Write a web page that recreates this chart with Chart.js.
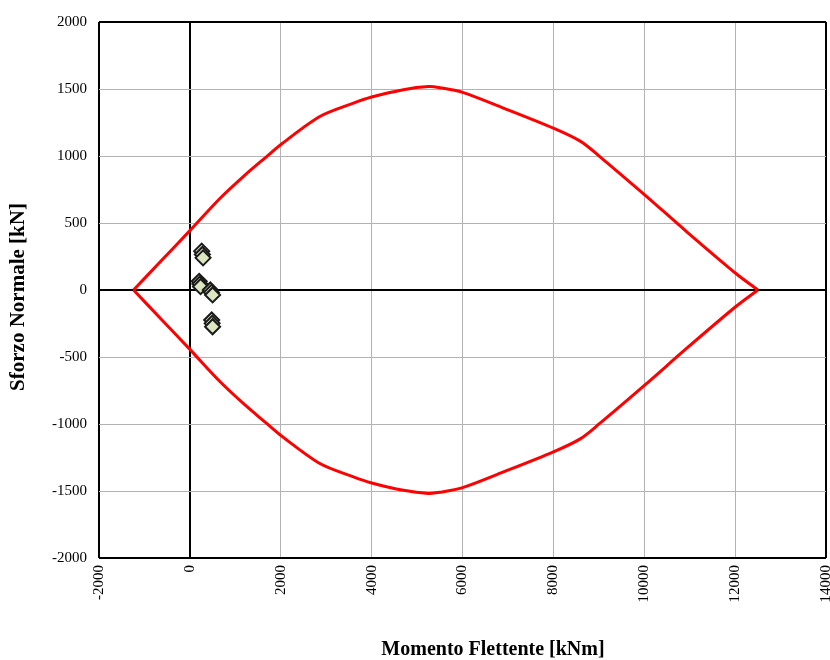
<!DOCTYPE html>
<html>
<head>
<meta charset="utf-8">
<script src="https://cdn.jsdelivr.net/npm/chart.js@4/dist/chart.umd.min.js"></script>
<style>
  html, body { margin: 0; padding: 0; background: #ffffff; }
  canvas { display: block; }
</style>
</head>
<body>
<canvas id="chart" width="830" height="660"></canvas>
<script>
// Interaction domain, upper branch (M [kNm], N [kN]) from left corner to right corner
const domainUpperM = [-1240, -620, 0, 660, 1200, 1690, 2010, 2860, 3600, 4000, 4700, 5250, 5500, 6000, 6900, 8000, 8600, 9020, 10010, 10930, 12010, 12500];
const domainUpperN = [0, 222, 443, 683, 854, 996, 1088, 1295, 1395, 1440, 1495, 1518, 1510, 1475, 1358, 1208, 1109, 996, 710, 436, 125, 0];
// Lower branch, right corner to left corner
const domainLowerM = [12500, 12010, 10930, 10010, 9020, 8600, 8000, 6900, 6000, 5500, 5250, 4700, 4000, 3600, 2860, 2010, 1690, 1200, 660, 0, -620, -1240];
const domainLowerN = [0, -125, -436, -710, -996, -1109, -1208, -1358, -1475, -1510, -1518, -1495, -1440, -1395, -1295, -1088, -996, -854, -683, -443, -222, 0];

// Design actions (M [kNm], N [kN])
const actionM = [260, 275, 290, 205, 220, 235, 450, 475, 500, 480, 490, 500];
const actionN = [290, 265, 240, 65, 45, 25, 0, -18, -37, -224, -249, -274];

// Axis ticks
const xTickMin = -2000, xTickMax = 14000, xTickStep = 2000;
const yTickMin = -2000, yTickMax = 2000, yTickStep = 500;

// Axis titles
const xTitle = 'Momento Flettente [kNm]';
const yTitle = 'Sforzo Normale [kN]';

const toPoints = (ms, ns) => ms.map((m, i) => ({ x: m, y: ns[i] }));

const serif = "'Liberation Serif', 'Times New Roman', serif";

function gridColor(min, max) {
  return ctx => {
    const v = ctx.tick ? ctx.tick.value : null;
    return (v === 0 || v === min || v === max) ? '#000000' : '#b3b3b3';
  };
}
function gridWidth(min, max) {
  return ctx => {
    const v = ctx.tick ? ctx.tick.value : null;
    return (v === 0 || v === min || v === max) ? 2 : 1;
  };
}

// Axis titles drawn at fixed spots around the plot
const axisTitles = {
  id: 'axisTitles',
  afterDraw(chart) {
    const ctx = chart.ctx;
    ctx.save();
    ctx.fillStyle = '#000000';
    ctx.textAlign = 'center';
    ctx.textBaseline = 'middle';
    ctx.font = 'bold 20px ' + serif;
    ctx.fillText(xTitle, 493, 650);
    ctx.translate(19, 297);
    ctx.rotate(-Math.PI / 2);
    ctx.font = 'bold 21px ' + serif;
    ctx.fillText(yTitle, 0, 0);
    ctx.restore();
  }
};

const lineStyle = {
  showLine: true,
  borderColor: '#ff0000',
  borderWidth: 3,
  pointRadius: 0,
  tension: 0.3,
  fill: false
};

new Chart(document.getElementById('chart'), {
  type: 'scatter',
  data: {
    datasets: [
      {
        label: 'Sollecitazioni',
        data: toPoints(actionM, actionN),
        pointStyle: 'rectRot',
        pointRadius: 7.5,
        pointHoverRadius: 7.5,
        pointBackgroundColor: '#dce6c1',
        pointBorderColor: '#1a1a1a',
        pointBorderWidth: 2,
        showLine: false
      },
      Object.assign({ label: 'Dominio (N > 0)', data: toPoints(domainUpperM, domainUpperN) }, lineStyle),
      Object.assign({ label: 'Dominio (N < 0)', data: toPoints(domainLowerM, domainLowerN) }, lineStyle)
    ]
  },
  plugins: [axisTitles],
  options: {
    responsive: false,
    animation: false,
    layout: { autoPadding: false, padding: { top: 22, right: 4, left: 0, bottom: 0 } },
    plugins: {
      legend: { display: false },
      tooltip: { enabled: false }
    },
    scales: {
      x: {
        type: 'linear',
        position: 'bottom',
        min: xTickMin,
        max: xTickMax,
        ticks: {
          stepSize: xTickStep,
          minRotation: 90,
          maxRotation: 90,
          padding: 7,
          color: '#000000',
          font: { family: serif, size: 15 },
          callback: v => String(v)
        },
        grid: { drawTicks: false, color: gridColor(xTickMin, xTickMax), lineWidth: gridWidth(xTickMin, xTickMax) },
        border: { display: false },
        afterFit: s => { s.height = 102; s.paddingLeft = 0; s.paddingRight = 0; }
      },
      y: {
        type: 'linear',
        min: yTickMin,
        max: yTickMax,
        ticks: {
          stepSize: yTickStep,
          padding: 12,
          color: '#000000',
          font: { family: serif, size: 15 },
          callback: v => String(v)
        },
        grid: { drawTicks: false, color: gridColor(yTickMin, yTickMax), lineWidth: gridWidth(yTickMin, yTickMax) },
        border: { display: false },
        afterFit: s => { s.width = 99; s.paddingTop = 0; s.paddingBottom = 0; }
      }
    }
  }
});
</script>
</body>
</html>
